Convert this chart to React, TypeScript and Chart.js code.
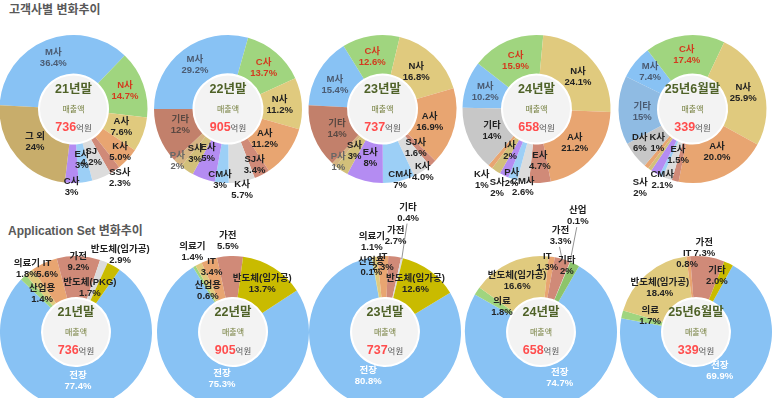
import React, { useEffect, useRef } from "react";
import { Chart, ArcElement, DoughnutController } from "chart.js";

Chart.register(ArcElement, DoughnutController);

const W = 773;
const H = 398;
const FONT = "'Liberation Sans', 'Noto Sans CJK KR', sans-serif";

// ---------- data ----------
const periods = ["21년말", "22년말", "23년말", "24년말", "25년6월말"];
const salesTotals = [736, 905, 737, 658, 339];

// 고객사별
const cust21Names = ["M사", "N사", "A사", "K사", "SS사", "SJ", "E사", "C사", "그 외"];
const cust21Values = [36.4, 14.7, 7.6, 5.0, 2.3, 4.2, 3, 3, 24];
const cust21Dec = [1, 1, 1, 1, 1, 1, 0, 0, 0];

const cust22Names = ["M사", "C사", "N사", "A사", "SJ사", "K사", "CM사", "E사", "S사", "P사", "기타"];
const cust22Values = [29.2, 13.7, 11.2, 11.2, 3.4, 5.7, 3, 5, 3, 2, 12];
const cust22Dec = [1, 1, 1, 1, 1, 1, 0, 0, 0, 0, 0];

const cust23Names = ["M사", "C사", "N사", "A사", "SJ사", "K사", "CM사", "E사", "S사", "P사", "기타"];
const cust23Values = [15.4, 12.6, 16.8, 16.9, 1.6, 4.0, 7, 8, 3, 1, 14];
const cust23Dec = [1, 1, 1, 1, 1, 1, 0, 0, 0, 0, 0];

const cust24Names = ["M사", "C사", "N사", "A사", "E사", "CM사", "P사", "S사", "I사", "K사", "기타"];
const cust24Values = [10.2, 15.9, 24.1, 21.2, 4.7, 2.6, 2, 2, 2, 1, 14];
const cust24Dec = [1, 1, 1, 1, 1, 1, 0, 0, 0, 0, 0];

const cust25Names = ["M사", "C사", "N사", "A사", "E사", "CM사", "P사", "S사", "I사", "K사", "D사", "기타"];
const cust25Values = [7.4, 17.4, 25.9, 20.0, 1.5, 2.1, 0.8, 2, 0.8, 1, 6, 15];
const cust25Dec = [1, 1, 1, 1, 1, 1, 1, 0, 1, 0, 0, 0];

// Application Set
const app21Names = ["전장", "산업용", "의료기", "IT", "가전", "반도체(PKG)", "반도체(임가공)"];
const app21Values = [77.4, 1.4, 1.8, 5.6, 9.2, 1.7, 2.9];
const app21Dec = [1, 1, 1, 1, 1, 1, 1];

const app22Names = ["전장", "산업용", "의료기", "IT", "가전", "반도체(임가공)"];
const app22Values = [75.3, 0.6, 1.4, 3.4, 5.5, 13.7];
const app22Dec = [1, 1, 1, 1, 1, 1];

const app23Names = ["전장", "산업용", "의료기", "IT", "가전", "기타", "반도체(임가공)"];
const app23Values = [80.8, 0.1, 1.1, 2.3, 2.7, 0.4, 12.6];
const app23Dec = [1, 1, 1, 1, 1, 1, 1];

const app24Names = ["전장", "의료", "반도체(임가공)", "IT", "가전", "산업", "기타"];
const app24Values = [74.7, 1.8, 16.6, 1.3, 3.3, 0.1, 2];
const app24Dec = [1, 1, 1, 1, 1, 1, 0];

const app25Names = ["전장", "의료", "반도체(임가공)", "IT", "가전", "기타"];
const app25Values = [69.9, 1.7, 18.4, 0.8, 7.3, 2.0];
const app25Dec = [1, 1, 1, 1, 1, 1];

// ---------- styles ----------
const BLUE = "#88c2f4";
const GREEN = "#a0d57f";
const KHAKI = "#e0ca7e";
const ORANGE = "#e8a571";
const ROSE = "#d08a78";
const GRAY = "#dcdcdc";
const LBLUE = "#9ccff6";
const PURPLE = "#b48cf2";
const OKHAKI = "#d2c07a";
const TAN = "#c8ad6b";
const BROWN = "#c2806b";
const PTAN = "#d6b482";
const DGRAY = "#c7c7c7";
const STEEL = "#8fbbe3";
const OLIVE = "#c9bb00";
const GREEN2 = "#8dc46b";

const SLATE = "#4b5b72";
const RED = "#d33a1f";
const DARK = "#222222";
const BROWNT = "#5a4842";
const GRAYT = "#666666";
const WHITE = "#ffffff";

type Place = [number | null, number, boolean?] | null;

type Spec = {
  names: string[];
  values: number[];
  decimals: number[];
  colors: string[];
  textColors: string[];
  place: Place[];
  rotation: number;
  cx: number;
  cy: number;
  radius: number;
  cutout: string;
  period: string;
  total: number;
};

const topCx = [73.5, 228, 382.5, 536.5, 692.5];
const topCy = 109;
const botCx = [76, 233, 385, 541, 696];
const botCy = 332;

const specs: Spec[] = [
  {
    names: cust21Names, values: cust21Values, decimals: cust21Dec,
    colors: [BLUE, GREEN, KHAKI, ORANGE, ROSE, GRAY, LBLUE, PURPLE, TAN],
    textColors: [SLATE, RED, DARK, DARK, DARK, DARK, DARK, DARK, DARK],
    place: [[null, 0], [null, 0], [0.69, 0], [0.86, 0], [1.12, 0], [0.69, 2], [0.7, 0], [1.05, 0], [0.68, 0]],
    rotation: -87, cx: topCx[0], cy: topCy, radius: 74, cutout: "48%", period: periods[0], total: salesTotals[0],
  },
  {
    names: cust22Names, values: cust22Values, decimals: cust22Dec,
    colors: [BLUE, GREEN, KHAKI, ORANGE, ROSE, GRAY, LBLUE, PURPLE, OKHAKI, PTAN, BROWN],
    textColors: [SLATE, RED, DARK, DARK, DARK, DARK, DARK, DARK, DARK, GRAYT, BROWNT],
    place: [[null, 0], [null, 0], [0.7, 0], [0.64, 3], [0.84, 2], [1.11, 1], [0.96, 1.5], [0.65, 5], [0.75, 2.4], [0.98, 1.4], [0.68, 3]],
    rotation: -90, cx: topCx[1], cy: topCy, radius: 74, cutout: "48%", period: periods[1], total: salesTotals[1],
  },
  {
    names: cust23Names, values: cust23Values, decimals: cust23Dec,
    colors: [BLUE, GREEN, KHAKI, ORANGE, ROSE, GRAY, LBLUE, PURPLE, OKHAKI, PTAN, BROWN],
    textColors: [SLATE, RED, DARK, DARK, DARK, DARK, DARK, DARK, DARK, GRAYT, BROWNT],
    place: [[0.72, -4], [0.72, -2], [0.68, -1.5], [0.66, 1], [0.69, 2], [1.01, 0], [0.99, -1], [0.68, 0], [0.68, 0], [0.93, -1], [0.67, -1.6]],
    rotation: -87, cx: topCx[2], cy: topCy, radius: 74, cutout: "48%", period: periods[2], total: salesTotals[2],
  },
  {
    names: cust24Names, values: cust24Values, decimals: cust24Dec,
    colors: [BLUE, GREEN, KHAKI, ORANGE, ROSE, GRAY, LBLUE, PURPLE, OKHAKI, ORANGE, DGRAY],
    textColors: [SLATE, RED, DARK, DARK, DARK, DARK, DARK, DARK, DARK, DARK, DARK],
    place: [[0.73, -1], [0.71, 0], [0.71, 3.5], [0.69, 1], [0.7, -1], [1.07, -0.5], [0.99, 1], [1.19, 0.5], [0.67, -1], [1.21, -1], [0.67, -2]],
    rotation: -89, cx: topCx[3], cy: topCy, radius: 74, cutout: "48%", period: periods[3], total: salesTotals[3],
  },
  {
    names: cust25Names, values: cust25Values, decimals: cust25Dec,
    colors: [BLUE, GREEN, KHAKI, ORANGE, ROSE, GRAY, LBLUE, PURPLE, OKHAKI, ORANGE, DGRAY, STEEL],
    textColors: [SLATE, RED, DARK, DARK, DARK, DARK, DARK, DARK, DARK, DARK, DARK, SLATE],
    place: [[0.76, 1.7], [0.74, 0], [0.72, 0], [0.67, -4.4], [0.65, 4], [1.04, 3.2], null, [1.28, 3.3], null, [0.66, 7.6], [0.85, 5.8], [0.68, -2.4]],
    rotation: -64, cx: topCx[4], cy: topCy, radius: 74, cutout: "48%", period: periods[4], total: salesTotals[4],
  },
  {
    names: app21Names, values: app21Values, decimals: app21Dec,
    colors: [BLUE, GREEN, KHAKI, ORANGE, ROSE, GRAY, OLIVE],
    textColors: [WHITE, DARK, DARK, DARK, DARK, DARK, DARK],
    place: [[0.65, 3.4], [0.67, 2], [1.05, 0], [0.91, 0], [0.92, 0], [0.61, -4], [1.17, 0]],
    rotation: 35, cx: botCx[0], cy: botCy, radius: 76, cutout: "46%", period: periods[0], total: salesTotals[0],
  },
  {
    names: app22Names, values: app22Values, decimals: app22Dec,
    colors: [BLUE, GREEN, KHAKI, ORANGE, ROSE, OLIVE],
    textColors: [WHITE, DARK, DARK, DARK, DARK, DARK],
    place: [[0.64, 0.5], [0.63, -1], [1.18, 0], [0.9, 0], [1.2, -1], [0.74, -1]],
    rotation: 57, cx: botCx[1], cy: botCy, radius: 76, cutout: "46%", period: periods[1], total: salesTotals[1],
  },
  {
    names: app23Names, values: app23Values, decimals: app23Dec,
    colors: [BLUE, GREEN, KHAKI, ORANGE, ROSE, GRAY, OLIVE],
    textColors: [WHITE, DARK, DARK, DARK, DARK, DARK, DARK],
    place: [[0.62, -3.5], [0.87, -2], [1.2, -0.5], [0.92, 0], [1.27, -1], [1.6, -2, true], [0.75, -4]],
    rotation: 59, cx: botCx[2], cy: botCy, radius: 76, cutout: "46%", period: periods[2], total: salesTotals[2],
  },
  {
    names: app24Names, values: app24Values, decimals: app24Dec,
    colors: [BLUE, GREEN, KHAKI, ORANGE, ROSE, GRAY, GREEN2],
    textColors: [WHITE, DARK, DARK, DARK, DARK, DARK, DARK],
    place: [[0.65, -7], [0.61, 0], [0.74, -1], [0.92, -3], [1.29, -5, true], [1.6, -5, true], [0.93, -5]],
    rotation: 30, cx: botCx[3], cy: botCy, radius: 76, cutout: "46%", period: periods[3], total: salesTotals[3],
  },
  {
    names: app25Names, values: app25Values, decimals: app25Dec,
    colors: [BLUE, GREEN, KHAKI, ORANGE, ROSE, OLIVE],
    textColors: [WHITE, DARK, DARK, DARK, DARK, DARK],
    place: [[0.6, -6], [0.64, 6], [0.75, 1], [0.97, -1], [1.11, -3], [0.79, -5]],
    rotation: 29, cx: botCx[4], cy: botCy, radius: 76, cutout: "46%", period: periods[4], total: salesTotals[4],
  },
];

function makeOverlay(spec: Spec) {
  return {
    id: "overlay",
    afterDatasetsDraw(chart: any) {
      const ctx: CanvasRenderingContext2D = chart.ctx;
      const arcs = chart.getDatasetMeta(0).data;
      if (!arcs.length) return;
      const c = arcs[0].getProps(["x", "y", "innerRadius", "outerRadius"], true);
      ctx.save();
      // center disc
      ctx.beginPath();
      ctx.arc(c.x, c.y, c.innerRadius - 2, 0, Math.PI * 2);
      ctx.fillStyle = "#f3f3f3";
      ctx.fill();
      ctx.textAlign = "center";
      ctx.textBaseline = "middle";
      ctx.font = `bold 12.5px ${FONT}`;
      ctx.fillStyle = "#4f6228";
      ctx.fillText(spec.period, c.x, c.y - 19);
      ctx.font = `8px ${FONT}`;
      ctx.fillStyle = "#76803f";
      ctx.fillText("매출액", c.x, c.y + 1);
      const totalText = String(spec.total);
      ctx.font = `bold 12.5px ${FONT}`;
      const nw = ctx.measureText(totalText).width;
      ctx.font = `8.5px ${FONT}`;
      const uw = ctx.measureText("억원").width;
      const sx = c.x - (nw + uw) / 2;
      ctx.textAlign = "left";
      ctx.font = `bold 12.5px ${FONT}`;
      ctx.fillStyle = "#ff4d4d";
      ctx.fillText(totalText, sx, c.y + 19);
      ctx.font = `8.5px ${FONT}`;
      ctx.fillStyle = "#555555";
      ctx.fillText("억원", sx + nw, c.y + 19.5);

      // slice labels
      ctx.textAlign = "center";
      arcs.forEach((arc: any, i: number) => {
        const p = spec.place[i];
        if (!p) return;
        const a = arc.getProps(["x", "y", "startAngle", "endAngle", "innerRadius", "outerRadius"], true);
        const mid = (a.startAngle + a.endAngle) / 2;
        const ang = mid + (p[1] || 0) * Math.PI / 180;
        const r = p[0] == null ? (a.innerRadius + a.outerRadius) / 2 : p[0] * a.outerRadius;
        const lx = a.x + Math.cos(ang) * r;
        const ly = a.y + Math.sin(ang) * r;
        if (p[2]) {
          ctx.beginPath();
          ctx.moveTo(lx - 1, ly + 11);
          ctx.lineTo(a.x + Math.cos(mid) * (a.outerRadius - 1), a.y + Math.sin(mid) * (a.outerRadius - 1));
          ctx.strokeStyle = "#7a7a7a";
          ctx.lineWidth = 0.8;
          ctx.stroke();
        }
        ctx.fillStyle = spec.textColors[i];
        ctx.font = `bold 9.5px ${FONT}`;
        ctx.fillText(spec.names[i], lx, ly - 5.5);
        ctx.fillText(spec.values[i].toFixed(spec.decimals[i]) + "%", lx, ly + 5.5);
      });
      ctx.restore();
    },
  };
}

function Donut({ spec }: { spec: Spec }) {
  const ref = useRef<HTMLCanvasElement | null>(null);
  useEffect(() => {
    if (!ref.current) return;
    const half = 30;
    const chart = new Chart(ref.current, {
      type: "doughnut",
      data: {
        labels: spec.names,
        datasets: [
          {
            data: spec.values,
            backgroundColor: spec.colors,
            borderWidth: 0,
            hoverOffset: 0,
          },
        ],
      },
      options: {
        responsive: false,
        animation: false,
        events: [],
        rotation: spec.rotation,
        radius: spec.radius,
        cutout: spec.cutout,
        layout: {
          padding: {
            left: spec.cx - half,
            right: W - spec.cx - half,
            top: spec.cy - half,
            bottom: H - spec.cy - half,
          },
        },
        plugins: { legend: { display: false }, tooltip: { enabled: false } },
      } as any,
      plugins: [makeOverlay(spec)],
    });
    return () => chart.destroy();
  }, [spec]);
  return (
    <canvas
      ref={ref}
      width={W}
      height={H}
      style={{ position: "absolute", left: 0, top: 0, width: W, height: H }}
    />
  );
}

export default function App() {
  useEffect(() => {
    document.body.style.margin = "0";
    document.documentElement.style.overflow = "hidden";
  }, []);
  const titleStyle: React.CSSProperties = {
    position: "absolute",
    left: 9,
    font: `bold 12px ${FONT}`,
    color: "#595959",
    lineHeight: "16px",
    whiteSpace: "nowrap",
  };
  return (
    <div style={{ position: "relative", width: W, height: H, overflow: "hidden", background: "#fff" }}>
      <div style={{ ...titleStyle, top: 2 }}>고객사별 변화추이</div>
      <div style={{ ...titleStyle, top: 223, left: 8 }}>Application Set 변화추이</div>
      {specs.map((s, i) => (
        <Donut key={i} spec={s} />
      ))}
    </div>
  );
}
